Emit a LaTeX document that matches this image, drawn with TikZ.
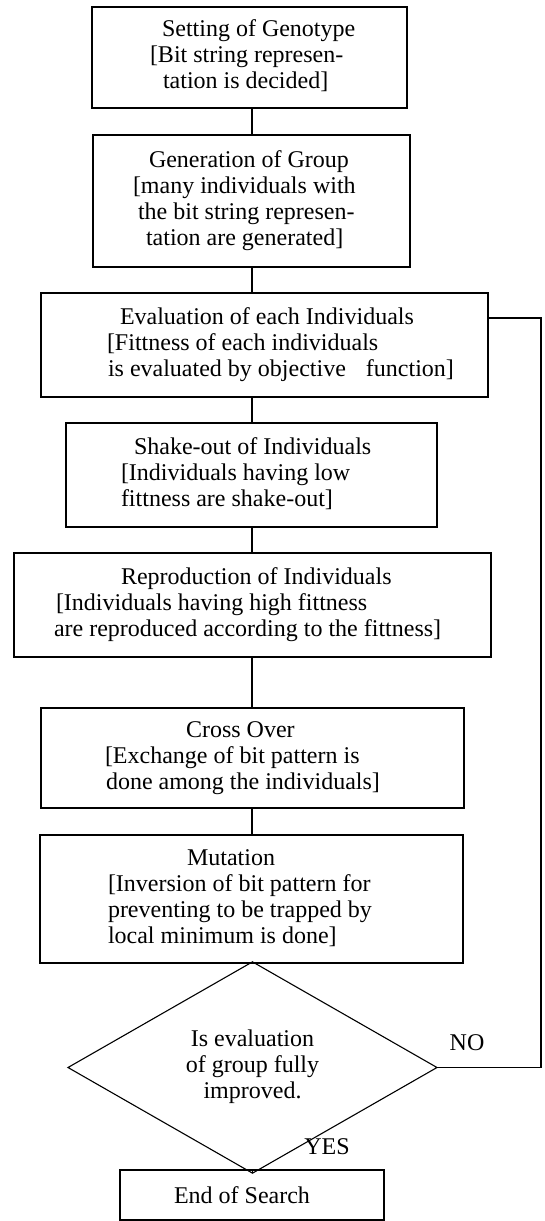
\documentclass[tikz,border=0pt]{standalone}
\usepackage{fontspec}
\setmainfont{Liberation Serif}
\usetikzlibrary{shapes.geometric}
\begin{document}
\begin{tikzpicture}[x=1pt,y=-1pt,
  every node/.style={font=\fontsize{24}{26}\selectfont, inner sep=0pt, outer sep=0pt},
  procbox/.style={draw, line width=1.1pt, rectangle},
  decbox/.style={draw, line width=1.1pt, diamond},
  link/.style={line width=1.1pt},
  lbl/.style={font=\fontsize{24}{26}\selectfont}
]
\useasboundingbox (0,0) rectangle (545,1221);
\coordinate (spine) at (252,0);

\node[procbox, minimum width=315pt, minimum height=101pt] (b1) at (249.5,57.5)
  {\makebox[199pt][l]{\begin{tabular}{@{}l@{}}\hspace{12pt}Setting of Genotype\\ {[}Bit string represen-\\ \hspace{13pt}tation is decided]\end{tabular}}};

\node[procbox, minimum width=317pt, minimum height=132pt] (b2) at (251.5,201)
  {\makebox[237pt][l]{\begin{tabular}{@{}l@{}}\hspace{16pt}Generation of Group\\ {[}many individuals with\\ \hspace{5pt}the bit string represen-\\ \hspace{13pt}tation are generated]\end{tabular}}};

\node[procbox, minimum width=447pt, minimum height=104pt] (b3) at (264.5,345)
  {\makebox[315pt][l]{\begin{tabular}{@{}l@{}}\hspace{13pt}Evaluation of each Individuals\\ {[}Fittness of each individuals\\ \hspace{1pt}is evaluated by objective\hspace{20pt}function]\end{tabular}}};

\node[procbox, minimum width=371pt, minimum height=104pt] (b4) at (251.5,475)
  {\makebox[261pt][l]{\begin{tabular}{@{}l@{}}\hspace{13pt}Shake-out of Individuals\\ {[}Individuals having low\\ fittness are shake-out]\end{tabular}}};

\node[procbox, minimum width=477pt, minimum height=104pt] (b5) at (252.5,605)
  {\makebox[397pt][l]{\begin{tabular}{@{}l@{}}\hspace{67pt}Reproduction of Individuals\\ \hspace{2pt}{[}Individuals having high fittness\\ are reproduced according to the fittness]\end{tabular}}};

\node[procbox, minimum width=423pt, minimum height=100pt] (b6) at (252.5,758)
  {\makebox[295pt][l]{\begin{tabular}{@{}l@{}}\hspace{81pt}Cross Over\\ {[}Exchange of bit pattern is\\ \hspace{1pt}done among the individuals]\end{tabular}}};

\node[procbox, minimum width=423pt, minimum height=128pt] (b7) at (251.5,899)
  {\makebox[287pt][l]{\begin{tabular}{@{}l@{}}\hspace{79pt}Mutation\\ {[}Inversion of bit pattern for\\ preventing to be trapped by\\ local minimum is done]\end{tabular}}};

\node[decbox, minimum width=369pt, minimum height=155pt] (d) at (252.5,1067.5)
  {\begin{tabular}{@{}c@{}}Is evaluation\\ of group fully\\ improved.\end{tabular}};

\node[procbox, minimum width=264pt, minimum height=50pt] (e) at (252,1195)
  {\hspace*{-20pt}End of Search};

\node[lbl] (no) at (467,1043) {NO};
\node[lbl] (yes) at (327,1147) {YES};

\draw[link] (b1.south -| spine) -- (b2.north -| spine);
\draw[link] (b2.south -| spine) -- (b3.north -| spine);
\draw[link] (b3.south -| spine) -- (b4.north -| spine);
\draw[link] (b4.south -| spine) -- (b5.north -| spine);
\draw[link] (b5.south -| spine) -- (b6.north -| spine);
\draw[link] (b6.south -| spine) -- (b7.north -| spine);
\draw[link] (b7.south -| spine) -- (d.north);
\draw[link] (d.south) -- (e.north -| d.south);

\coordinate (loopcorner) at (541,318);
\draw[link] (d.east) -| (loopcorner) -- (loopcorner -| b3.east);
\end{tikzpicture}
\end{document}
